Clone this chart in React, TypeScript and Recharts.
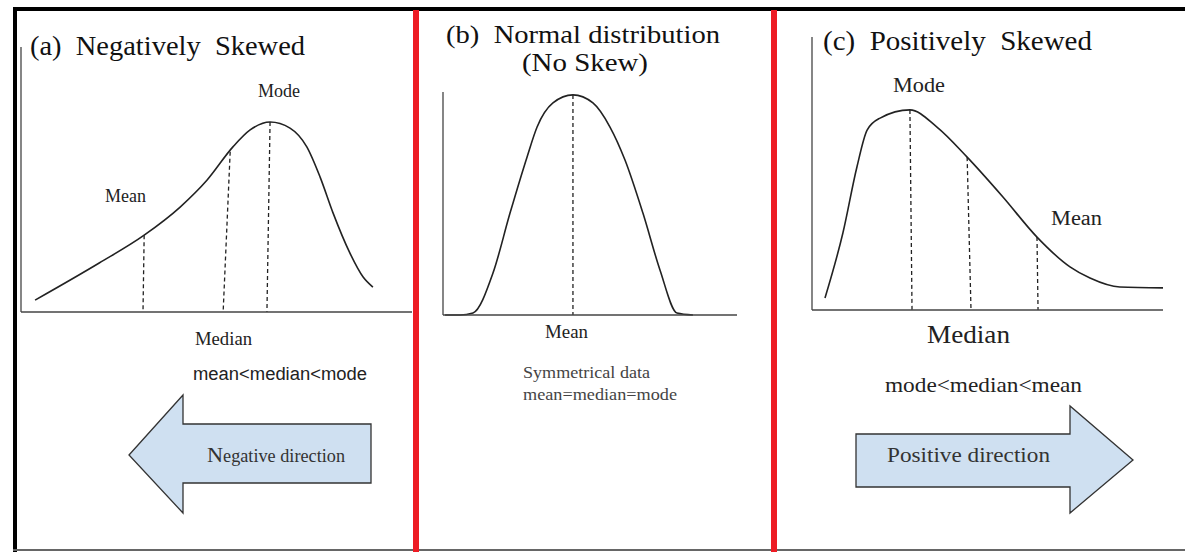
import React from "react";
import { LineChart, Line, XAxis, YAxis, ReferenceLine } from "recharts";

// curve shapes, axis units 0..100 on both axes
const negSkewX = [3.6, 20, 31.5, 40.7, 47.6, 54.2, 58.6, 63.7, 68.8, 73.1, 76.5, 79.8, 84.1, 87.5, 90];
const negSkewY = [4.5, 18.5, 29, 39.6, 49.8, 62.3, 68.7, 71.7, 69.4, 62.3, 50.9, 37.4, 22.3, 13.2, 9.4];

const normalX = [0.7, 5.8, 10.2, 17, 22.8, 28.6, 32, 37.4, 44.2, 51, 56.8, 61.9, 68, 73.8, 79.6, 85];
const normalY = [0, 0, 0.9, 18.8, 45.7, 70.9, 84.3, 95.1, 98.7, 95.1, 84.3, 69.5, 45.7, 20.2, 0.9, 0];

const posSkewX = [3.7, 8.8, 12.8, 15.7, 19.4, 27.9, 35.6, 44.2, 54.4, 64.1, 73.5, 79.2, 87.7, 100];
const posSkewY = [4.4, 28.2, 52.4, 65.9, 70.3, 73.3, 67, 56, 41.4, 26.7, 15.8, 11.7, 8.4, 8.1];

// dashed markers: [x at curve, y at curve, x at axis]
const negMarkers = [
  [31.5, 29, 31.2],
  [53.5, 60.5, 51.7],
  [63.7, 71.7, 62.9],
];
const normalMarkers = [[44.2, 98.7, 44.2]];
const posMarkers = [
  [27.9, 73.3, 28.5],
  [44.2, 56, 45.3],
  [64.1, 26.7, 64.4],
];

const toRows = (xs: number[], ys: number[]) => xs.map((x, i) => ({ x, y: ys[i] }));

const INK = "#222";
const SERIF = "'Liberation Serif', 'Times New Roman', serif";
const SANS = "'Liberation Sans', Arial, sans-serif";

interface PanelProps {
  xs: number[];
  ys: number[];
  markers: number[][];
  left: number;
  top: number;
  width: number;
  height: number;
}

// left/top/width/height describe the plot box (axis origin = left, top + height)
const Panel = ({ xs, ys, markers, left, top, width, height }: PanelProps) => (
  <div style={{ position: "absolute", left: left - 3, top: top - 2 }}>
    <LineChart
      width={width + 5}
      height={height + 5}
      data={toRows(xs, ys)}
      margin={{ top: 2, right: 2, bottom: 2, left: 2 }}
    >
      <XAxis
        type="number"
        dataKey="x"
        domain={[0, 100]}
        tick={false}
        tickLine={false}
        height={1}
        axisLine={{ stroke: "#444", strokeWidth: 1.3 }}
      />
      <YAxis
        type="number"
        domain={[0, 100]}
        tick={false}
        tickLine={false}
        width={1}
        axisLine={{ stroke: "#444", strokeWidth: 1.3 }}
      />
      {markers.map((m, i) => (
        <ReferenceLine
          key={i}
          segment={[
            { x: m[0], y: m[1] },
            { x: m[2], y: 0 },
          ]}
          stroke={INK}
          strokeWidth={1.3}
          strokeDasharray="4 3"
        />
      ))}
      <Line
        type="monotone"
        dataKey="y"
        stroke={INK}
        strokeWidth={1.6}
        dot={false}
        isAnimationActive={false}
      />
    </LineChart>
  </div>
);

const T = (props: any) => (
  <text
    fontFamily={SERIF}
    fill="#222"
    lengthAdjust="spacingAndGlyphs"
    {...props}
  />
);

export default function App() {
  return (
    <div
      style={{
        position: "absolute",
        left: 0,
        top: 0,
        width: 1185,
        height: 552,
        background: "#fff",
        overflow: "hidden",
      }}
    >
      <Panel xs={negSkewX} ys={negSkewY} markers={negMarkers} left={21} top={47} width={391} height={265} />
      <Panel xs={normalX} ys={normalY} markers={normalMarkers} left={443} top={92} width={294} height={223} />
      <Panel xs={posSkewX} ys={posSkewY} markers={posMarkers} left={812} top={37} width={351} height={273} />

      <svg
        width={1185}
        height={552}
        style={{ position: "absolute", left: 0, top: 0, pointerEvents: "none" }}
      >
        {/* frame */}
        <rect x={13} y={7} width={1172} height={4} fill="#000" />
        <rect x={13} y={7} width={4} height={545} fill="#000" />
        <rect x={13} y={549} width={1172} height={2} fill="#666" />
        <rect x={413} y={10} width={6} height={542} fill="#ed1c24" />
        <rect x={771} y={10} width={6} height={542} fill="#ed1c24" />

        {/* panel a */}
        <T x={30} y={55} fontSize={28} fill="#111" textLength={275}>
          {"(a)\u00a0 Negatively\u00a0 Skewed"}
        </T>
        <T x={258} y={97} fontSize={18} textLength={42}>Mode</T>
        <T x={105} y={202} fontSize={18} textLength={41}>Mean</T>
        <T x={195} y={345} fontSize={18} textLength={57}>Median</T>
        <text x={193} y={380} fontFamily={SANS} fontSize={18} fill="#222" textLength={174} lengthAdjust="spacingAndGlyphs">
          mean&lt;median&lt;mode
        </text>
        <polygon
          points="129,455 183,395 183,424 371,424 371,483 183,483 183,513"
          fill="#cfe0f1"
          stroke="#333"
          strokeWidth={1.3}
        />
        <T x={207} y={462} fontSize={18} fill="#333" textLength={138}>
          <tspan fontSize={22}>N</tspan>egative direction
        </T>

        {/* panel b */}
        <T x={446} y={43} fontSize={25} fill="#111" textLength={274}>
          {"(b)\u00a0 Normal distribution"}
        </T>
        <T x={522} y={71} fontSize={25} fill="#111" textLength={126}>(No Skew)</T>
        <T x={545} y={338} fontSize={18} textLength={43}>Mean</T>
        <T x={523} y={378} fontSize={17} fill="#444" textLength={127}>Symmetrical data</T>
        <T x={523} y={400} fontSize={17} fill="#444" textLength={154}>mean=median=mode</T>

        {/* panel c */}
        <T x={823} y={50} fontSize={28} fill="#111" textLength={269}>
          {"(c)\u00a0 Positively\u00a0 Skewed"}
        </T>
        <T x={893} y={92} fontSize={20} textLength={52}>Mode</T>
        <T x={1051} y={225} fontSize={20} textLength={51}>Mean</T>
        <T x={927} y={343} fontSize={25} textLength={83}>Median</T>
        <T x={885} y={392} fontSize={21} textLength={197}>mode&lt;median&lt;mean</T>
        <polygon
          points="856,434 1070,434 1070,406 1133,460 1070,513 1070,487 856,487"
          fill="#cfe0f1"
          stroke="#333"
          strokeWidth={1.3}
        />
        <T x={887} y={462} fontSize={21} fill="#333" textLength={163}>Positive direction</T>
      </svg>
    </div>
  );
}
